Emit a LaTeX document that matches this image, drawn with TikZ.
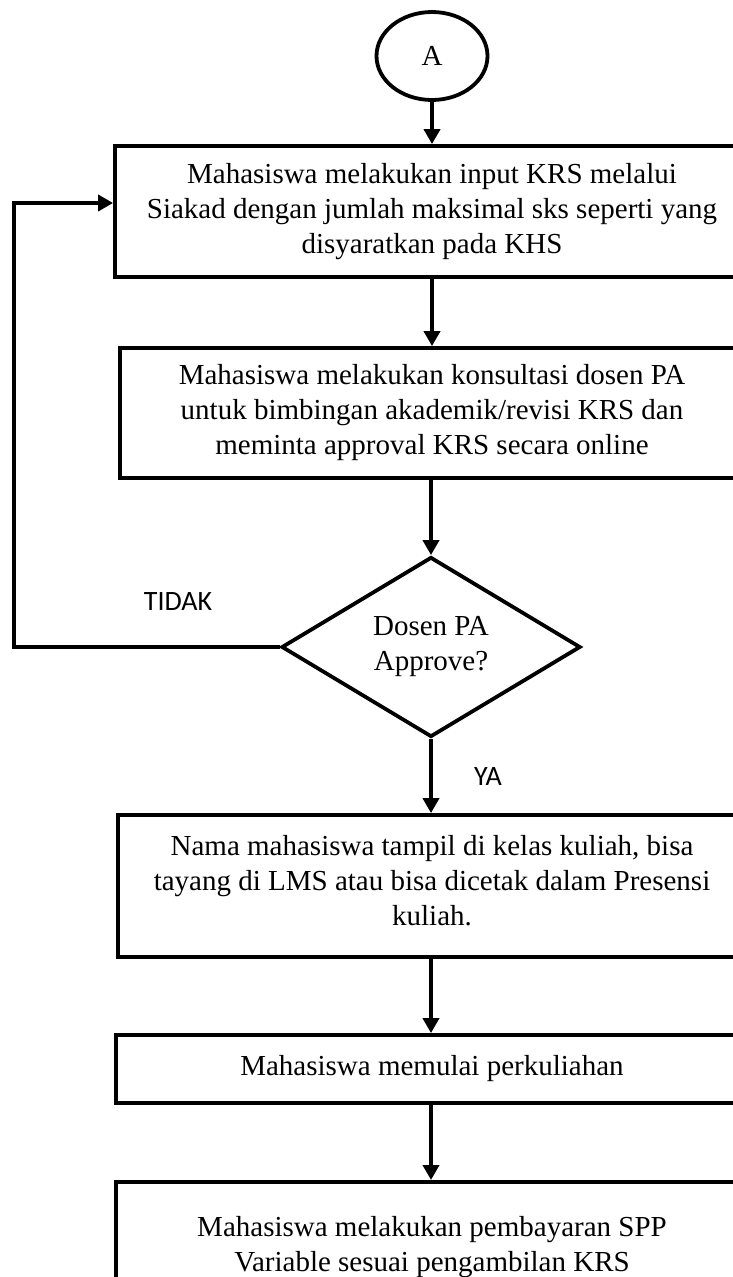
\documentclass[tikz,border=0pt]{standalone}
\usepackage{fontspec}
\setmainfont{Liberation Serif}
\newfontfamily\lblfont{Carlito}
\usetikzlibrary{shapes.geometric,arrows.meta}
\begin{document}
\begin{tikzpicture}[x=1pt,y=-1pt,
  every node/.style={font=\fontsize{29pt}{35pt}\selectfont},
  stepbox/.style={draw,line width=3.8pt,rectangle,align=center,inner sep=0pt},
  decision/.style={draw,line width=3.8pt,diamond,align=center,inner sep=0pt,minimum width=299pt,minimum height=180pt},
  connector/.style={draw,line width=3.8pt,ellipse,inner sep=0pt,minimum width=111pt,minimum height=88pt},
  flow/.style={line width=3.8pt,-{Triangle[length=15pt,width=16pt]}},
  lbl/.style={font=\lblfont\fontsize{28pt}{34pt}\selectfont}]
\useasboundingbox (0,0) rectangle (733,1277);
\clip (0,0) rectangle (733,1277);
\node[connector] (a) at (432,56) {A};
\node[stepbox,minimum width=634pt,minimum height=131pt] (b1) at (432,211.5)
  {Mahasiswa melakukan input KRS melalui\\Siakad dengan jumlah maksimal sks seperti yang\\disyaratkan pada KHS};
\node[stepbox,minimum width=624pt,minimum height=130pt] (b2) at (432,413)
  {Mahasiswa melakukan konsultasi dosen PA\\untuk bimbingan akademik/revisi KRS dan\\meminta approval KRS secara online};
\node[decision] (d) at (431,647) {Dosen PA\\Approve?};
\node[stepbox,minimum width=628pt,minimum height=142pt] (b3) at (432,886)
  {Nama mahasiswa tampil di kelas kuliah, bisa\\tayang di LMS atau bisa dicetak dalam Presensi\\kuliah.\\[-23pt]\mbox{}};
\node[stepbox,minimum width=632pt,minimum height=68pt] (b4) at (432,1069)
  {Mahasiswa memulai perkuliahan};
\node[stepbox,minimum width=632pt,minimum height=130pt,anchor=north] (b5) at (432,1180)
  {Mahasiswa melakukan pembayaran SPP\\Variable sesuai pengambilan KRS};
\node[lbl] (tidak) at (178,602) {TIDAK};
\node[lbl] (ya) at (488,777) {YA};
\coordinate (lp) at (14,203);
\draw[flow] (a.south) -- (a.south |- b1.north);
\draw[flow] (b1.south -| a.south) -- (a.south |- b2.north);
\draw[flow] (b2.south -| d.north) -- (d.north);
\draw[flow] (d.south) -- (d.south |- b3.north);
\draw[flow] (b3.south -| d.south) -- (d.south |- b4.north);
\draw[flow] (b4.south -| d.south) -- (d.south |- b5.north);
\draw[flow] (d.west) -| (lp) -- (b1.west |- lp);
\end{tikzpicture}
\end{document}
